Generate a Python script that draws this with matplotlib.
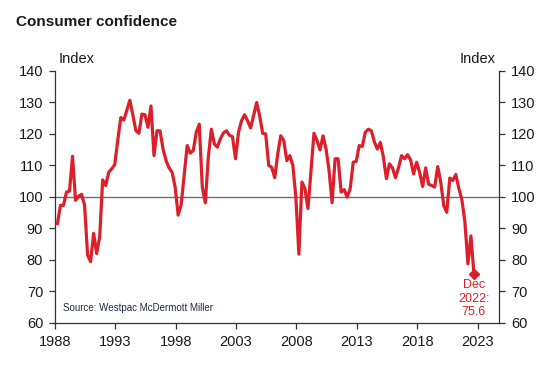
import numpy as np
import matplotlib
matplotlib.use("Agg")
import matplotlib.pyplot as plt

plt.rcParams['font.family'] = ['Liberation Sans', 'DejaVu Sans']

# Quarterly consumer confidence index, Jun 1988 .. Dec 2022
values = [
    91.5, 97.3, 97.3, 101.5, 101.8, 112.9, 98.9, 100.2, 100.8, 97.3,
    81.5, 79.4, 88.4, 82.0, 87.3, 105.4, 103.6, 107.8, 108.9, 110.3,
    118.0, 125.2, 124.4, 127.5, 130.7, 126.0, 121.0, 120.2, 126.3, 126.1,
    122.1, 128.9, 113.1, 121.0, 121.0, 115.2, 111.5, 109.2, 107.8, 103.1,
    94.2, 97.5, 107.0, 116.3, 113.9, 114.7, 120.5, 123.1, 103.1, 98.1,
    112.6, 121.5, 116.8, 115.8, 118.5, 120.3, 121.0, 119.6, 119.1, 112.1,
    120.5, 124.2, 126.1, 124.2, 121.9, 125.8, 130.0, 125.8, 120.2, 120.0,
    110.0, 109.4, 106.1, 113.7, 119.4, 117.9, 111.5, 113.1, 110.0, 99.9,
    81.8, 104.7, 102.6, 96.3, 108.0, 120.2, 117.9, 114.9, 119.4, 115.2,
    108.4, 98.1, 112.1, 112.1, 101.5, 102.3, 99.9, 102.6, 111.0, 111.3,
    116.3, 116.0, 120.5, 121.5, 121.0, 117.5, 115.2, 117.3, 112.6, 105.8,
    110.5, 109.2, 106.1, 109.2, 113.1, 112.1, 113.4, 111.8, 107.3, 111.0,
    107.8, 103.3, 109.2, 104.0, 103.6, 103.1, 109.6, 104.7, 97.2, 95.1,
    106.0, 105.2, 107.1, 102.7, 99.1, 92.1, 78.7, 87.6, 75.6,
]
first_quarter = 1988.2
dates = first_quarter + 0.25 * np.arange(len(values))

xticks = [1988, 1993, 1998, 2003, 2008, 2013, 2018, 2023]
yticks = [60, 70, 80, 90, 100, 110, 120, 130, 140]

RED = '#dc1f2b'
TXT = '#1a1a1a'
W, H = 552, 370

fig = plt.figure(figsize=(W / 100, H / 100), dpi=100)
ax = fig.add_axes([55 / W, 1 - 322.7 / H, (499.3 - 55) / W, (322.7 - 71) / H])

ax.axhline(100, color='#6e6e6e', lw=1.0, zorder=1)
ax.plot(dates, values, color=RED, lw=2.3, zorder=3, solid_joinstyle='round')
ax.plot(dates[-1], values[-1], marker='D', color=RED, ms=5, zorder=4)

ax.set_xlim(1988, 2024.8)
ax.set_ylim(60, 140)
ax.set_xticks(xticks)
ax.set_xticklabels([str(t) for t in xticks])
ax.set_yticks(yticks)

ax.tick_params(axis='both', direction='out', length=4, width=0.9,
               colors='#333333', labelcolor=TXT, labelsize=10.5, pad=4.5)
ax.tick_params(axis='y', which='both', left=True, right=True,
               labelleft=True, labelright=True)
ax.spines['top'].set_visible(False)
for s in ('left', 'right', 'bottom'):
    ax.spines[s].set_color('#333333')
    ax.spines[s].set_linewidth(0.9)

ax.annotate('Dec\n2022:\n75.6', xy=(dates[-1], values[-1]), xytext=(0, -4),
            textcoords='offset points', ha='center', va='top', color=RED,
            fontsize=9, linespacing=1.15)

fig.text(16 / W, 1 - 22 / H, 'Consumer confidence', fontsize=11,
         fontweight='bold', color=TXT, ha='left', va='center')
fig.text(59 / W, 1 - 59 / H, 'Index', fontsize=10.5, color=TXT,
         ha='left', va='center')
fig.text(496 / W, 1 - 59 / H, 'Index', fontsize=10.5, color=TXT,
         ha='right', va='center')
ax.text(63 / W, 1 - 308 / H, 'Source: Westpac McDermott Miller',
        transform=fig.transFigure, fontsize=7, color='#1f2a44',
        ha='left', va='center')

fig.savefig('out.png', dpi=100)
